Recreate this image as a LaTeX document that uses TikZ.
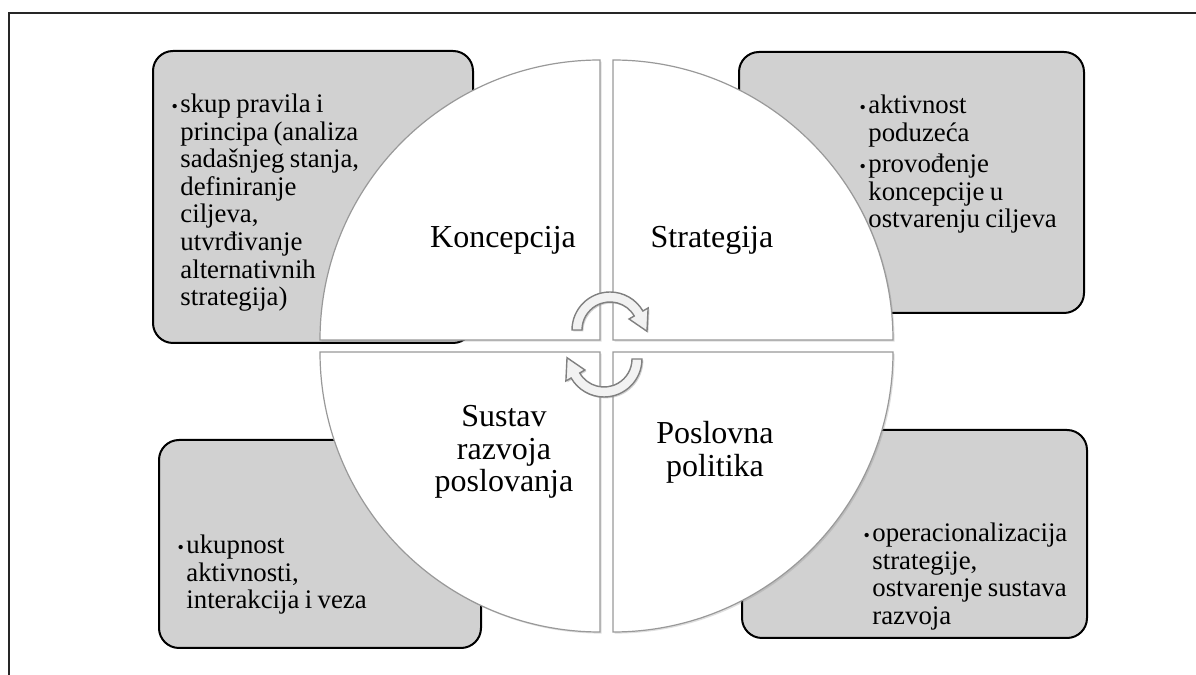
\documentclass[tikz,border=0pt]{standalone}
\usepackage{fontspec}
\setmainfont{Liberation Serif}
\usetikzlibrary{shadows}
\newcommand\bul{\llap{{\fontsize{9}{9}\selectfont\textbullet}\hspace{1.2pt}}}
\newcommand\bitem{\par\spaceskip=0.2em plus 0.05em\relax\noindent\bul}

\begin{document}
\begin{tikzpicture}[x=0.5pt,y=0.5pt,
  frame/.style={draw=black!85,line width=0.9pt},
  infobox/.style={draw=black,fill=black!18,line width=1pt,rounded corners=10pt},
  quarter/.style={draw=black!40,fill=white,line width=0.6pt,
    drop shadow={opacity=0.25,shadow xshift=0.8pt,shadow yshift=-0.8pt}},
  cyc/.style={draw=black!50,fill=black!5,line width=0.7pt,
    drop shadow={opacity=0.35,shadow xshift=0.7pt,shadow yshift=-0.7pt}},
  head/.style={font=\fontsize{16}{16.2}\selectfont,text width=150pt,align=center,anchor=base,inner sep=0pt},
  bultext/.style={font=\fontsize{13.4}{13.8}\selectfont,
    text width=150pt,align=left,anchor=base west,inner sep=0pt}]
\useasboundingbox (0,0) rectangle (1196,675);
\draw[frame] (9,0) -- (9,662) -- (1196,662);

\draw[infobox] (153,332) rectangle (473,624);
\draw[infobox] (739,362) rectangle (1084,623);
\draw[infobox] (159,27) rectangle (481,235);
\draw[infobox] (742,37) rectangle (1087,245);

\draw[quarter] (600,335) -- (320,335) arc[start angle=180,end angle=90,radius=280] -- cycle;
\draw[quarter] (613,335) -- (613,615) arc[start angle=90,end angle=0,radius=280] -- cycle;
\draw[quarter] (600,323) -- (320,323) arc[start angle=180,end angle=270,radius=280] -- cycle;
\draw[quarter] (613,323) -- (893,323) arc[start angle=0,end angle=-90,radius=280] -- cycle;

\path (503,427) node[head] (konc) {Koncepcija}
      (712,427) node[head] (strat) {Strategija}
      (504,248) node[head] (sust) {Sustav\\ razvoja\\ poslovanja}
      (715,231) node[head] (posl) {Poslovna\\ politika}
      (180,590) node[bultext] (konctxt) {\bitem skup pravila i\\ principa (analiza\\ sadašnjeg stanja,\\ definiranje\\ ciljeva,\\ utvrđivanje\\ alternativnih\\ strategija)}
      (868,589) node[bultext] (strattxt) {\bitem aktivnost\\ poduzeća\par\vspace{2pt}\bitem provođenje\\ koncepcije u\\ ostvarenju ciljeva}
      (186,149) node[bultext] (susttxt) {\bitem ukupnost\\ aktivnosti,\\ interakcija i veza}
      (872,161) node[bultext] (posltxt) {\bitem operacionalizacija\\ strategije,\\ ostvarenje sustava\\ razvoja};

\draw[cyc,shift={(610,345)}] (180:38) arc[start angle=180,end angle=30,radius=38]
  -- (30:44) -- (-2:37) -- (30:22) -- (30:28) arc[start angle=30,end angle=180,radius=28] -- cycle;
\draw[cyc,shift={(604,316)},rotate=180] (180:38) arc[start angle=180,end angle=30,radius=38]
  -- (30:44) -- (-2:37) -- (30:22) -- (30:28) arc[start angle=30,end angle=180,radius=28] -- cycle;
\end{tikzpicture}
\end{document}
